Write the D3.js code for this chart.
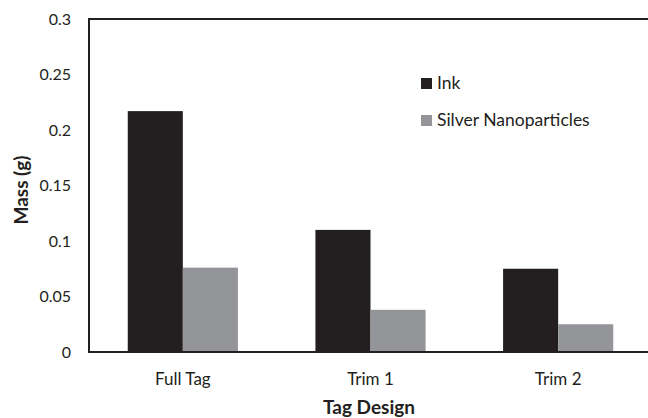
<!DOCTYPE html>
<html>
<head>
<meta charset="utf-8">
<script src="https://cdnjs.cloudflare.com/ajax/libs/d3/7.8.5/d3.min.js"></script>
<style>
  body { margin: 0; background: #fff; }
  text { font-family: Lato, "Open Sans", sans-serif; fill: #231f20; }
</style>
</head>
<body>
<svg id="chart"></svg>
<script>
// values
var designs = ["Full Tag", "Trim 1", "Trim 2"];
var seriesNames = ["Ink", "Silver Nanoparticles"];
var inkMass = [0.217, 0.110, 0.075];
var silverMass = [0.076, 0.038, 0.025];
var yTicks = [0, 0.05, 0.1, 0.15, 0.2, 0.25, 0.3];
var colors = ["#231f20", "#939598"];

var width = 648, height = 418;
// the plot runs a little past the right edge of the picture
var margin = {top: 19, right: -4, bottom: 66, left: 89};

var svg = d3.select("#chart")
  .attr("width", width)
  .attr("height", height);

var x = d3.scaleBand()
  .domain(designs)
  .range([margin.left, width - margin.right])
  .paddingInner(0.413)
  .paddingOuter(0.2065);

var x1 = d3.scaleBand()
  .domain(seriesNames)
  .range([0, x.bandwidth()]);

var y = d3.scaleLinear()
  .domain([0, 0.3])
  .range([height - margin.bottom, margin.top]);

var rows = designs.map(function(d, i) {
  return {design: d, values: [inkMass[i], silverMass[i]]};
});

// bars
svg.selectAll("g.group")
  .data(rows)
  .enter().append("g")
  .attr("class", "group")
  .attr("transform", function(d) { return "translate(" + x(d.design) + ",0)"; })
  .selectAll("rect")
  .data(function(d) { return d.values.map(function(v, j) { return {name: seriesNames[j], value: v, k: j}; }); })
  .enter().append("rect")
  .attr("x", function(d) { return x1(d.name); })
  .attr("width", x1.bandwidth())
  .attr("y", function(d) { return y(d.value); })
  .attr("height", function(d) { return y(0) - y(d.value); })
  .style("fill", function(d) { return colors[d.k]; });

// frame: left, top and bottom lines
var x0 = margin.left, xEnd = width - margin.right;
svg.append("path")
  .attr("d", "M" + xEnd + "," + y(0.3) + "H" + x0 + "V" + y(0) + "H" + xEnd)
  .style("fill", "none")
  .style("stroke", "#231f20")
  .style("stroke-width", 2);

// y axis labels
var yAxis = svg.append("g")
  .attr("transform", "translate(" + margin.left + ",0)")
  .call(d3.axisLeft(y).tickValues(yTicks).tickSize(0).tickPadding(18)
    .tickFormat(function(d) { return String(d); }));
yAxis.select(".domain").remove();
yAxis.selectAll("text")
  .style("font-size", "16px")
  .style("fill", "#231f20")
  .style("font-family", "Lato, sans-serif");

// x axis labels
var xAxis = svg.append("g")
  .attr("transform", "translate(0," + y(0) + ")")
  .call(d3.axisBottom(x).tickSize(0).tickPadding(21));
xAxis.select(".domain").remove();
xAxis.selectAll("text")
  .style("font-size", "17px")
  .style("fill", "#231f20")
  .style("font-family", "Lato, sans-serif");

// axis titles
svg.append("text")
  .attr("transform", "translate(28,190) rotate(-90)")
  .style("text-anchor", "middle")
  .style("font-size", "19px")
  .style("font-weight", "bold")
  .text("Mass (g)");

svg.append("text")
  .attr("x", 369)
  .attr("y", 414)
  .style("text-anchor", "middle")
  .style("font-size", "19px")
  .style("font-weight", "bold")
  .text("Tag Design");

// legend
var legend = svg.selectAll("g.legend")
  .data(seriesNames)
  .enter().append("g")
  .attr("class", "legend")
  .attr("transform", function(d, i) { return "translate(421," + (78 + i * 37) + ")"; });

legend.append("rect")
  .attr("width", 11)
  .attr("height", 11)
  .style("fill", function(d, i) { return colors[i]; });

legend.append("text")
  .attr("x", 16)
  .attr("y", 11)
  .style("font-size", "17.5px")
  .text(function(d) { return d; });
</script>
</body>
</html>
